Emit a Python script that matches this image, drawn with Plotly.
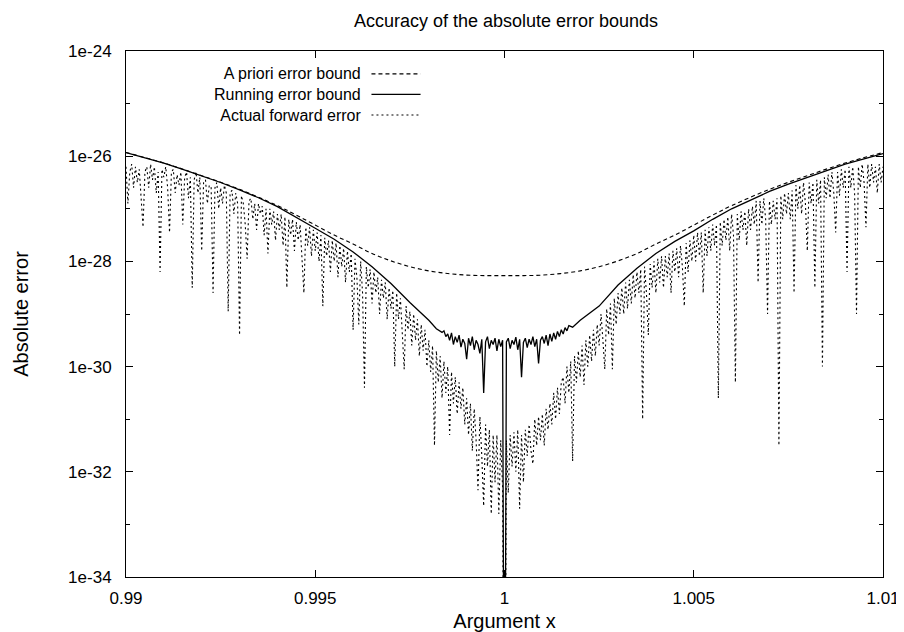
import numpy as np
import plotly.graph_objects as go

# ---------------- data (log10 of absolute error) ----------------
apriori_x = [0.990, 0.991, 0.992, 0.993, 0.994, 0.9945, 0.995, 0.9955, 0.996, 0.9965, 0.997,
             0.9975, 0.998, 0.9985, 0.999, 0.9995, 1.000, 1.0005, 1.001, 1.0015, 1.002, 1.0025,
             1.003, 1.0035, 1.004, 1.0045, 1.005, 1.0055, 1.006, 1.007, 1.008, 1.009, 1.010]
apriori_log = [-25.93, -26.13, -26.37, -26.63, -26.94, -27.12, -27.31, -27.50, -27.67, -27.85, -27.99,
               -28.10, -28.18, -28.23, -28.26, -28.27, -28.27, -28.27, -28.26, -28.23, -28.18, -28.10,
               -27.99, -27.85, -27.67, -27.50, -27.31, -27.12, -26.94, -26.63, -26.37, -26.13, -25.93]

running_left_x = [0.9900, 0.9905, 0.9910, 0.9915, 0.9920, 0.9925, 0.9930, 0.9935, 0.9940,
                  0.9945, 0.9950, 0.9955, 0.9960, 0.9965, 0.9970, 0.9975, 0.9980, 0.9982]
running_left_log = [-25.93, -26.03, -26.13, -26.25, -26.37, -26.50, -26.64, -26.79, -26.96,
                    -27.16, -27.37, -27.58, -27.82, -28.10, -28.42, -28.78, -29.12, -29.28]
# noisy floor of the running bound, 0.9983 .. 1.0017 every 0.00005
running_mid_log = [-29.32, -29.35, -29.32, -29.43, -29.38, -29.50, -29.36, -29.58, -29.43, -29.54,
                   -29.40, -29.63, -29.48, -29.56, -29.86, -29.46, -29.60, -29.43, -29.68, -29.50,
                   -29.58, -29.75, -29.48, -30.50, -29.53, -29.43, -29.66, -29.50, -29.58, -29.46,
                   -29.70, -29.48, -29.62, -29.50, -40.00, -29.53, -29.46, -29.66, -29.50, -29.58,
                   -29.44, -29.68, -29.48, -30.20, -29.54, -29.46, -29.64, -29.48, -29.58, -29.43,
                   -29.62, -29.48, -29.94, -29.50, -29.43, -29.56, -29.40, -29.60, -29.38, -29.52,
                   -29.36, -29.48, -29.33, -29.43, -29.30, -29.38, -29.26, -29.32, -29.22]
running_right_x = [1.0018, 1.0020, 1.0025, 1.0030, 1.0035, 1.0040, 1.0045, 1.0050, 1.0055,
                   1.0060, 1.0065, 1.0070, 1.0075, 1.0080, 1.0085, 1.0090, 1.0095, 1.0100]
running_right_log = [-29.25, -29.12, -28.85, -28.45, -28.13, -27.85, -27.62, -27.42, -27.20,
                     -27.00, -26.83, -26.67, -26.53, -26.40, -26.27, -26.15, -26.05, -25.95]

# actual forward error, 0.99 .. 1.01 every 0.00005 (401 readings)
forward_log = [
    -26.2, -26.9, -26.3, -26.15, -26.6, -26.2, -26.5, -26.25, -26.8, -27.35,
    -26.3, -26.2, -26.6, -26.15, -26.45, -26.2, -26.7, -26.3, -28.2, -26.25,
    -26.4, -26.2, -26.6, -27.45, -26.3, -26.25, -26.7, -26.35, -26.55, -26.3,
    -27.3, -26.4, -26.3, -26.8, -26.4, -28.5, -26.45, -26.3, -26.7, -26.4,
    -27.8, -26.5, -26.45, -26.9, -26.55, -26.6, -28.6, -26.6, -26.5, -27.0,
    -26.6, -26.9, -26.55, -26.7, -28.95, -26.7, -26.65, -27.1, -26.7, -26.9,
    -29.4, -26.75, -26.9, -27.3, -27.95, -26.85, -26.8, -27.2, -26.9, -27.4,
    -26.9, -27.1, -26.95, -27.5, -27.0, -27.85, -27.0, -27.3, -27.05, -27.6,
    -27.1, -27.4, -27.1, -27.7, -27.15, -28.5, -27.2, -27.5, -27.2, -27.8,
    -27.25, -27.6, -27.3, -27.9, -28.6, -27.35, -27.7, -27.35, -27.9, -27.4,
    -27.8, -27.45, -28.0, -27.5, -28.85, -27.55, -27.9, -27.6, -28.2, -27.6,
    -28.0, -27.65, -28.3, -27.7, -28.1, -27.75, -28.4, -27.8, -28.2, -27.85,
    -29.3, -27.95, -28.3, -29.2, -28.0, -28.6, -30.4, -28.1, -28.5, -28.15,
    -28.8, -28.2, -28.6, -28.3, -29.0, -28.35, -28.7, -28.4, -29.1, -28.5,
    -28.9, -28.55, -30.0, -28.6, -29.1, -28.7, -29.3, -30.05, -28.85, -29.3,
    -28.95, -29.6, -29.0, -29.5, -29.1, -29.8, -29.2, -29.7, -29.3, -30.0,
    -29.5, -30.1, -29.6, -31.5, -29.7, -30.3, -29.8, -30.6, -29.9, -30.5,
    -30.0, -31.3, -30.1, -30.7, -30.2, -30.9, -30.3, -30.8, -30.4, -31.1,
    -30.6, -31.3, -30.7, -31.6, -30.8, -31.4, -32.35, -30.95, -31.7, -32.65,
    -31.1, -31.9, -31.2, -32.8, -31.3, -32.2, -31.3, -32.8, -31.4, -32.3,
    -40.0,
    -31.4, -32.4, -31.3, -31.9, -31.25, -32.0, -31.2, -32.7, -31.3, -32.2,
    -31.2, -31.7, -31.1, -31.6, -31.85, -31.0, -31.5, -30.95, -31.4, -30.9,
    -31.5, -30.8, -31.2, -30.7, -31.1, -30.5, -31.0, -30.4, -30.9, -30.3,
    -30.2, -30.7, -30.0, -30.5, -29.9, -31.8, -29.8, -30.3, -29.7, -30.2,
    -29.6, -30.35, -29.5, -30.0, -29.4, -29.9, -29.3, -29.8, -29.2, -29.6,
    -29.0, -29.5, -30.05, -28.9, -29.4, -28.8, -30.05, -28.7, -29.2, -28.6,
    -29.0, -28.5, -29.0, -28.4, -28.9, -28.35, -28.8, -28.25, -28.7, -28.2,
    -28.6, -28.15, -31.0, -28.1, -28.6, -29.4, -28.05, -28.5, -28.0, -28.6,
    -27.95, -28.4, -27.9, -28.5, -27.9, -28.3, -27.85, -28.6, -27.8, -28.2,
    -27.75, -28.3, -27.7, -28.1, -28.85, -27.65, -28.2, -27.6, -28.0, -27.5,
    -28.0, -27.45, -27.9, -27.45, -28.6, -27.4, -27.9, -27.35, -27.8, -27.3,
    -27.7, -27.3, -30.6, -27.25, -27.7, -27.2, -27.6, -27.15, -27.8, -27.1,
    -27.5, -30.3, -27.1, -27.6, -27.05, -27.4, -27.05, -27.7, -27.0, -27.4,
    -26.95, -27.3, -26.85, -28.4, -26.85, -27.3, -26.8, -27.2, -29.0, -26.85,
    -27.3, -26.85, -27.2, -26.8, -31.5, -26.75, -27.2, -26.7, -27.1, -26.7,
    -27.2, -26.65, -28.6, -26.55, -27.0, -26.55, -27.1, -26.5, -26.9, -27.8,
    -26.5, -26.9, -26.5, -28.5, -26.45, -26.9, -26.45, -30.0, -26.4, -26.8,
    -26.35, -26.8, -26.3, -26.7, -27.45, -26.3, -26.75, -26.25, -26.6, -26.25,
    -28.2, -26.2, -26.6, -26.2, -26.7, -29.0, -26.2, -26.6, -26.15, -26.5,
    -27.35, -26.15, -26.6, -26.15, -26.5, -26.2, -26.7, -26.15, -26.5, -26.2,
]
forward_x = np.linspace(0.99, 1.01, len(forward_log))

x_ticks = [0.99, 0.995, 1.0, 1.005, 1.01]
x_tick_labels = ["0.99", "0.995", "1", "1.005", "1.01"]
y_ticks = [1e-34, 1e-32, 1e-30, 1e-28, 1e-26, 1e-24]
y_tick_labels = ["1e-34", "1e-32", "1e-30", "1e-28", "1e-26", "1e-24"]
y_minor = [1e-33, 1e-31, 1e-29, 1e-27, 1e-25]

series_names = ["A priori error bound", "Running error bound", "Actual forward error"]

# ---------------- figure ----------------
running_x = (list(running_left_x) + list(np.linspace(0.9983, 1.0017, len(running_mid_log)))
             + list(running_right_x))
running_log = running_left_log + running_mid_log + running_right_log

fig = go.Figure()
fig.add_trace(go.Scatter(x=forward_x, y=10.0 ** np.array(forward_log), mode="lines",
                         name=series_names[2],
                         line=dict(color="black", width=1.1, dash="2px,3px")))
fig.add_trace(go.Scatter(x=apriori_x, y=10.0 ** np.array(apriori_log), mode="lines",
                         name=series_names[0], line_shape="spline",
                         line=dict(color="black", width=1.1, dash="4px,3px")))
fig.add_trace(go.Scatter(x=running_x, y=10.0 ** np.array(running_log), mode="lines",
                         name=series_names[1],
                         line=dict(color="black", width=1.3)))

L, R, T, B = 113, 20, 43, 56
W, H = 904, 632
pw, ph = W - L - R, H - T - B

def px2paper_x(px):
    return (px - L) / pw

def px2paper_y(py):
    return (H - B - py) / ph

# gnuplot-style key: text on the left (one right-aligned block), line samples on the right
key_font = 16
key_step = 1.3 * key_font
key_mid = 87
fig.add_annotation(text="<br>".join(series_names), xref="paper", yref="paper",
                   x=px2paper_x(354), y=px2paper_y(key_mid), xanchor="right", yanchor="middle",
                   align="right", showarrow=False, font=dict(size=key_font, color="black"))
for k, dash in enumerate(["4px,3px", "solid", "2px,3px"]):
    py = key_mid + (k - 1) * key_step
    fig.add_shape(type="line", xref="paper", yref="paper",
                  x0=px2paper_x(363), x1=px2paper_x(413), y0=px2paper_y(py), y1=px2paper_y(py),
                  line=dict(color="black", width=1.1, dash=dash))

fig.update_layout(
    width=W, height=H, margin=dict(l=L, r=R, t=T, b=B, pad=0),
    paper_bgcolor="white", plot_bgcolor="white", showlegend=False,
    font=dict(family="Liberation Sans, Arial, sans-serif", size=17, color="black"),
    title=dict(text="Accuracy of the absolute error bounds", x=498 / W, xanchor="center",
               y=1 - 13 / H, yanchor="middle", yref="container", font=dict(size=18)),
)
fig.update_xaxes(range=[0.99, 1.01], tickvals=x_ticks, ticktext=x_tick_labels,
                 ticks="inside", ticklen=7, tickcolor="black", tickwidth=1,
                 showline=True, linecolor="black", linewidth=1, mirror="ticks",
                 showgrid=False, zeroline=False, ticklabelstandoff=6,
                 title=dict(text="Argument x", standoff=6))
fig.update_yaxes(type="log", range=[-34, -24], tickvals=y_ticks, ticktext=y_tick_labels,
                 ticks="inside", ticklen=7, tickcolor="black", tickwidth=1,
                 minor=dict(tickvals=y_minor, ticks="inside", ticklen=4, tickcolor="black",
                            showgrid=False),
                 showline=True, linecolor="black", linewidth=1, mirror="ticks",
                 showgrid=False, zeroline=False, ticklabelstandoff=10,
                 title=dict(text="Absolute error", standoff=34))

fig.write_html("out.html")
